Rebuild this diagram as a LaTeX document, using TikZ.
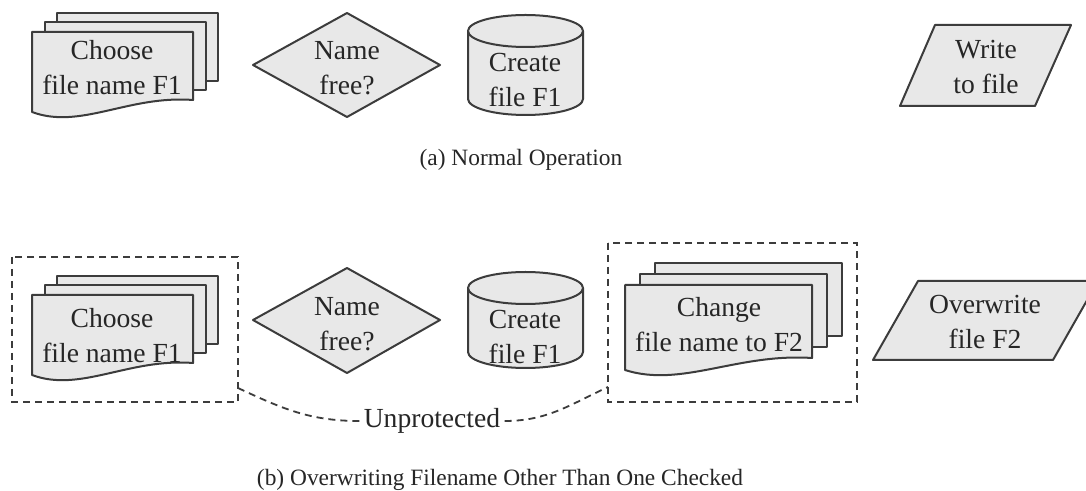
\documentclass[tikz,border=0pt]{standalone}
\usepackage{fontspec}
\setmainfont{Liberation Serif}

\definecolor{boxgray}{RGB}{232,232,232}
\definecolor{linegray}{RGB}{60,60,60}

% stack of pages: #1,#2 top-left of front page, #3 width, #4 height, #5,#6 page offset
\newcommand{\filestack}[6]{%
  \begin{scope}[shift={(#1,#2)}]
    \draw[shapebox] (2*#5,2*#6) rectangle ++(#3,-#4);
    \draw[shapebox] (#5,#6) rectangle ++(#3,-#4);
    \draw[shapebox] (0,0) -- (#3,0) -- (#3,-#4)
      .. controls ({0.6*#3},{-#4+5}) and ({0.3*#3},{-#4-30}) .. (0,{-#4-12}) -- cycle;
  \end{scope}}

\begin{document}
\begin{tikzpicture}[x=0.5pt, y=0.5pt,
    shapebox/.style={draw=linegray, fill=boxgray, line width=1pt, line join=round},
    guardbox/.style={draw=linegray, line width=0.9pt, dash pattern=on 3.5pt off 2.5pt},
    txt/.style={font=\fontsize{13.8}{17.5}\selectfont, align=center, inner sep=0pt, text=black!85},
    caption/.style={font=\fontsize{11.7}{14}\selectfont, inner sep=0pt, text=black!85}]
                % Frame:
                \clip (0,0) rectangle (1086,-491);
                \fill[white] (0,0) rectangle (1086,-491);
                % (a) Normal operation:
                \filestack{32}{-32}{161}{68}{12.5}{9.5}
                \draw[shapebox] (253,-65) -- (347,-13) -- (440,-65) -- (347,-117) -- cycle;
                \draw[shapebox] (468,-31) -- (468,-99) arc[start angle=180, end angle=360, x radius=57.5, y radius=16]
                  -- (583,-31) arc[start angle=0, end angle=180, x radius=57.5, y radius=16] -- cycle;
                \draw[shapebox] (583,-31) arc[start angle=0, end angle=-180, x radius=57.5, y radius=16];
                \draw[shapebox] (900,-106) -- (935,-25) -- (1071,-25) -- (1035,-106) -- cycle;
                \node[txt] (choose1) at (112,-68) {Choose\\file name F1};
                \node[txt] (namefree1) at (347,-68) {Name\\free?};
                \node[txt] (create1) at (525,-80) {Create\\file F1};
                \node[txt] (write1) at (986,-67) {Write\\to file};
                \node[caption] (capA) at (521,-160) {(a) Normal Operation};
                % (b) Overwriting filename other than one checked:
                \draw[guardbox] (12,-257) rectangle (238,-402);
                \draw[guardbox] (608,-243) rectangle (857,-402);
                \filestack{32}{-295}{161}{68}{12.5}{9.5}
                \draw[shapebox] (253,-320) -- (347,-268) -- (440,-320) -- (347,-373) -- cycle;
                \draw[shapebox] (468,-288) -- (468,-352) arc[start angle=180, end angle=360, x radius=57.5, y radius=16]
                  -- (583,-288) arc[start angle=0, end angle=180, x radius=57.5, y radius=16] -- cycle;
                \draw[shapebox] (583,-288) arc[start angle=0, end angle=-180, x radius=57.5, y radius=16];
                \filestack{625}{-285}{187}{73}{15}{11}
                \draw[shapebox] (873,-360) -- (918,-281) -- (1098,-281) -- (1053,-360) -- cycle;
                \node[txt] (choose2) at (112,-336) {Choose\\file name F1};
                \node[txt] (namefree2) at (347,-324) {Name\\free?};
                \node[txt] (create2) at (525,-337) {Create\\file F1};
                \node[txt] (change2) at (719,-325) {Change\\file name to F2};
                \node[txt] (overwrite2) at (985,-322) {Overwrite\\file F2};
                \node[txt, inner sep=2pt] (unprot) at (432,-421) {Unprotected};
                \coordinate (guardL) at (238,-388);
                \coordinate (guardR) at (608,-387);
                \draw[guardbox] (guardL) to[out=-25, in=180] (unprot.west);
                \draw[guardbox] (unprot.east) to[out=0, in=-155] (guardR);
                \node[caption] (capB) at (500,-480) {(b) Overwriting Filename Other Than One Checked};
            \end{tikzpicture}
\end{document}
